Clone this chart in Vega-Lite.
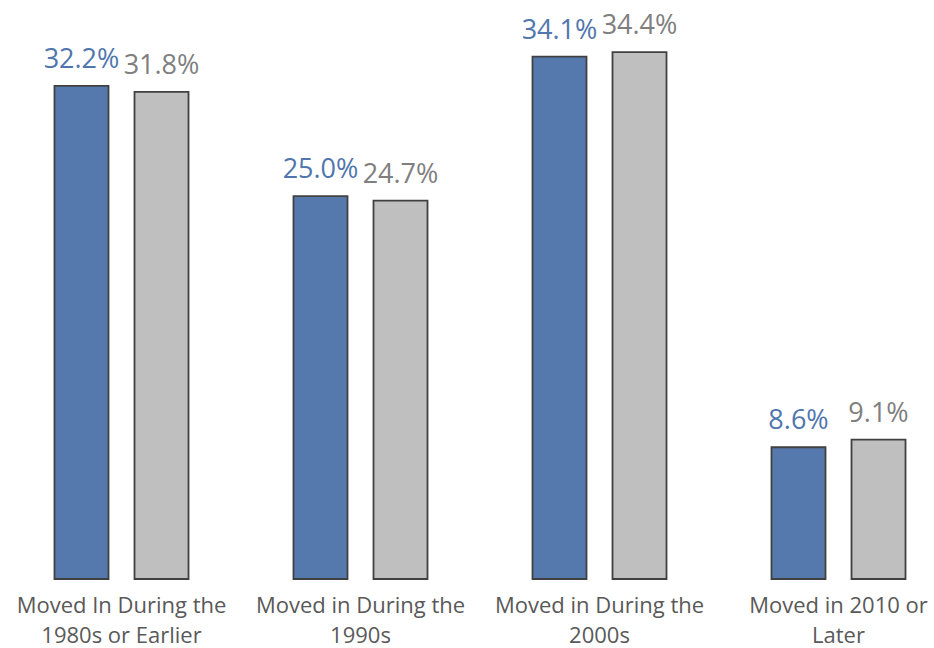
{
  "$schema": "https://vega.github.io/schema/vega-lite/v6.json",
  "autosize": "none",
  "padding": {"left": 2, "top": 0, "right": 0, "bottom": 69},
  "width": 956,
  "height": 579,
  "background": "white",
  "config": {
    "view": {"stroke": null},
    "font": "Open Sans"
  },
  "data": {
    "values": [
      {"period": "Moved In During the|1980s or Earlier", "series": "Study Area", "share": 0.322},
      {"period": "Moved In During the|1980s or Earlier", "series": "Region", "share": 0.318},
      {"period": "Moved in During the|1990s", "series": "Study Area", "share": 0.250},
      {"period": "Moved in During the|1990s", "series": "Region", "share": 0.247},
      {"period": "Moved in During the|2000s", "series": "Study Area", "share": 0.341},
      {"period": "Moved in During the|2000s", "series": "Region", "share": 0.344},
      {"period": "Moved in 2010 or|Later", "series": "Study Area", "share": 0.086},
      {"period": "Moved in 2010 or|Later", "series": "Region", "share": 0.091}
    ]
  },
  "encoding": {
    "x": {
      "field": "period",
      "type": "nominal",
      "sort": null,
      "scale": {"paddingInner": 0, "paddingOuter": 0},
      "axis": {
        "title": null,
        "domain": false,
        "ticks": false,
        "labelAngle": 0,
        "labelExpr": "split(datum.label, '|')",
        "labelFont": "Open Sans",
        "labelFontSize": 22,
        "labelColor": "#595959",
        "labelLineHeight": 30,
        "labelPadding": 16,
        "labelBaseline": "top",
        "labelLimit": 300
      }
    },
    "xOffset": {
      "field": "series",
      "type": "nominal",
      "sort": ["Study Area", "Region"],
      "scale": {"paddingInner": 0.325, "paddingOuter": 0.656}
    },
    "y": {
      "field": "share",
      "type": "quantitative",
      "scale": {"domain": [0, 0.378], "nice": false},
      "axis": null
    }
  },
  "layer": [
    {
      "mark": {"type": "bar", "stroke": "#404040", "strokeWidth": 1.8},
      "encoding": {
        "color": {
          "field": "series",
          "type": "nominal",
          "scale": {"domain": ["Study Area", "Region"], "range": ["#5679ad", "#bfbfbf"]},
          "legend": null
        }
      }
    },
    {
      "mark": {"type": "text", "baseline": "alphabetic", "dy": -18, "fontSize": 27},
      "encoding": {
        "text": {"field": "share", "type": "quantitative", "format": ".1%"},
        "color": {
          "condition": {"test": "datum.series === 'Region'", "value": "#7f7f7f"},
          "value": "#5076ad"
        }
      }
    }
  ]
}
